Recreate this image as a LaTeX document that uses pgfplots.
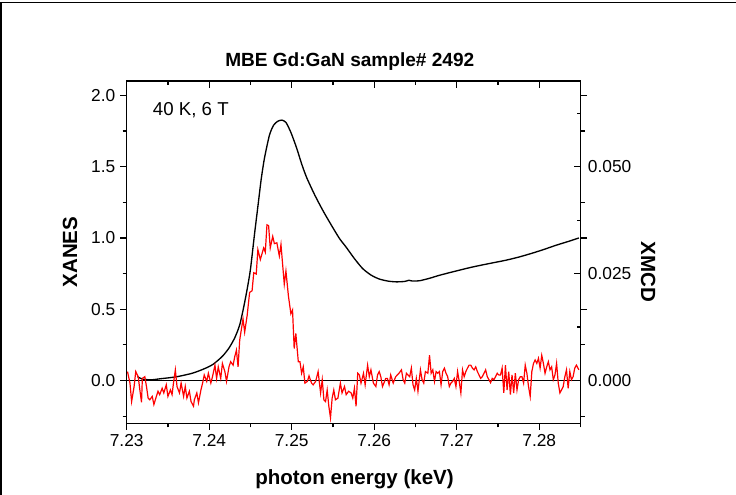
\documentclass[border=0pt]{standalone}
\usepackage{pgfplots}
\pgfplotsset{compat=1.18}
\usepackage{fontspec}
\setmainfont{Liberation Sans}
\pgfplotsset{
  base/.style={
    at={(95pt,53.75pt)}, anchor=south west,
    width=340.4pt, height=256.7pt, scale only axis,
    xmin=7.23, xmax=7.285,
    scaled x ticks=false, scaled y ticks=false,
    /pgf/number format/assume math mode=true,
    axis line style={draw=none},
    tick style={black, line width=0.9pt},
    major tick length=5pt, minor tick length=3pt,
    ticklabel style={font=\fontsize{13}{15}\selectfont},
    clip=true,
  },
}
\begin{document}
\begin{tikzpicture}
\path[use as bounding box] (0,0) rectangle (552pt,371.25pt);
\draw[line width=1.1pt] (0.7pt,0) -- (0.7pt,369.2pt) -- (552pt,369.2pt);

% left axis (XANES), ticks outward on bottom and left
\begin{axis}[base,
  ymin=-0.3, ymax=2.1,
  xtick pos=left, ytick pos=left, tick align=outside,
  xtick={7.23,7.24,7.25,7.26,7.27,7.28},
  minor xtick={7.235,7.245,7.255,7.265,7.275,7.285},
  ytick={0,0.5,1,1.5,2},
  minor ytick={-0.25,0.25,0.75,1.25,1.75},
  xticklabel style={/pgf/number format/.cd, fixed, fixed zerofill, precision=2},
  yticklabel style={/pgf/number format/.cd, fixed, fixed zerofill, precision=1},
]
\addplot[black, line width=1pt, smooth, tension=0.4] coordinates {
(7.2313,0.028) (7.2319,0.010) (7.2330,0.005) (7.2340,0.012) (7.2360,0.026)
(7.2380,0.052) (7.2395,0.085) (7.2405,0.115) (7.2416,0.170) (7.2424,0.228)
(7.2431,0.300) (7.2437,0.390) (7.2442,0.520) (7.2446,0.640) (7.2450,0.780)
(7.2455,1.030) (7.2459,1.220) (7.2463,1.410) (7.2467,1.560) (7.2473,1.720)
(7.2478,1.790) (7.2483,1.818) (7.2488,1.826) (7.2493,1.810) (7.2499,1.740)
(7.2506,1.630) (7.2512,1.520) (7.2518,1.425) (7.2528,1.300) (7.2538,1.190)
(7.2548,1.090) (7.2558,0.995) (7.2566,0.935) (7.2576,0.855) (7.2586,0.785)
(7.2596,0.740) (7.2606,0.712) (7.2617,0.697) (7.2627,0.692) (7.2637,0.695)
(7.2642,0.703) (7.2646,0.698) (7.2655,0.700) (7.2667,0.717) (7.2679,0.738)
(7.2699,0.768) (7.2719,0.796) (7.2739,0.820) (7.2759,0.843) (7.2776,0.867)
(7.2792,0.894) (7.2806,0.920) (7.2820,0.948) (7.2835,0.975) (7.2848,1.000)
};
\end{axis}

% mirrored left-scale ticks on right side (outward), skipping those at the XMCD labels
\begin{axis}[base,
  ymin=-0.3, ymax=2.1,
  ytick pos=right, tick align=outside,
  ytick={0.5,1,2}, minor ytick={-0.25,0.25,1.25,1.75},
  yticklabels={}, xtick=\empty,
]
\addplot[draw=none] coordinates {(7.23,0) (7.285,0)};
\end{axis}

% top ticks (inward)
\begin{axis}[base,
  ymin=-0.3, ymax=2.1,
  xtick pos=right, tick align=inside,
  xtick={7.23,7.24,7.25,7.26,7.27,7.28},
  minor xtick={7.235,7.245,7.255,7.265,7.275,7.285},
  xticklabels={}, ytick=\empty,
]
\addplot[draw=none] coordinates {(7.23,0) (7.285,0)};
\end{axis}

% right axis (XMCD), ticks inward
\begin{axis}[base,
  ymin=-0.01, ymax=0.07,
  ytick pos=right, yticklabel pos=right, tick align=inside,
  ytick={0,0.025,0.05}, minor ytick={0.0125,0.0375,0.0625},
  xtick=\empty,
  yticklabel style={xshift=2pt, /pgf/number format/.cd, fixed, fixed zerofill, precision=3},
]
\addplot[black, line width=1.4pt] coordinates {(7.23,0) (7.285,0)};
\addplot[red, line width=0.9pt] coordinates {
(7.2301,0.0021) (7.2304,-0.0006) (7.2306,-0.0049) (7.2309,-0.0014) (7.2311,0.0021)
(7.2314,0.0009) (7.2316,-0.0022) (7.2318,-0.0051) (7.2319,0.0005) (7.2322,0.0009)
(7.2324,-0.0014) (7.2326,-0.0041) (7.2328,-0.0045) (7.2331,-0.0037) (7.2333,-0.0056)
(7.2336,-0.0037) (7.2338,-0.0025) (7.2340,-0.0033) (7.2343,-0.0018) (7.2345,-0.0029)
(7.2348,-0.0010) (7.2350,-0.0037) (7.2353,-0.0022) (7.2355,-0.0033) (7.2357,-0.0002)
(7.2359,0.0025) (7.2361,-0.0014) (7.2364,-0.0029) (7.2366,-0.0006) (7.2369,-0.0037)
(7.2371,-0.0014) (7.2373,-0.0041) (7.2376,-0.0025) (7.2378,-0.0049) (7.2381,-0.0060)
(7.2382,-0.0045) (7.2385,-0.0029) (7.2387,-0.0052) (7.2390,-0.0022) (7.2392,-0.0006)
(7.2394,0.0013) (7.2397,-0.0002) (7.2399,0.0017) (7.2402,-0.0006) (7.2404,0.0009)
(7.2407,0.0036) (7.2409,0.0005) (7.2411,0.0032) (7.2414,0.0005) (7.2416,0.0040)
(7.2419,0.0021) (7.2421,-0.0002) (7.2424,0.0032) (7.2426,0.0044) (7.2429,0.0036)
(7.2431,0.0056) (7.2433,0.0071) (7.2435,0.0032) (7.2437,0.0095) (7.2441,0.0144)
(7.2443,0.0113) (7.2446,0.0152) (7.2449,0.0206) (7.2452,0.0210) (7.2454,0.0252)
(7.2457,0.0249) (7.2459,0.0306) (7.2462,0.0283) (7.2466,0.0310) (7.2468,0.0300)
(7.2470,0.0364) (7.2472,0.0362) (7.2474,0.0310) (7.2477,0.0337) (7.2479,0.0320)
(7.2482,0.0322) (7.2485,0.0291) (7.2487,0.0318) (7.2491,0.0225) (7.2493,0.0256)
(7.2496,0.0198) (7.2499,0.0156) (7.2501,0.0165) (7.2503,0.0075) (7.2505,0.0110)
(7.2508,0.0044) (7.2510,0.0044) (7.2512,0.0017) (7.2514,0.0032) (7.2516,-0.0006)
(7.2519,-0.0002) (7.2521,0.0011) (7.2524,-0.0006) (7.2526,-0.0010) (7.2529,-0.0002)
(7.2532,0.0021) (7.2535,-0.0029) (7.2537,0.0002) (7.2539,-0.0045) (7.2541,-0.0049)
(7.2543,-0.0022) (7.2545,-0.0060) (7.2547,-0.0087) (7.2549,-0.0041) (7.2551,-0.0022)
(7.2553,-0.0045) (7.2556,-0.0041) (7.2559,-0.0006) (7.2561,-0.0029) (7.2564,-0.0014)
(7.2566,-0.0033) (7.2569,-0.0025) (7.2572,-0.0029) (7.2574,-0.0041) (7.2576,-0.0018)
(7.2578,-0.0060) (7.2580,0.0017) (7.2582,0.0013) (7.2584,-0.0006) (7.2587,0.0017)
(7.2589,-0.0010) (7.2592,0.0036) (7.2594,0.0009) (7.2596,0.0025) (7.2599,-0.0006)
(7.2602,-0.0014) (7.2604,0.0013) (7.2606,0.0021) (7.2608,0.0009) (7.2610,-0.0014)
(7.2614,0.0005) (7.2616,0.0005) (7.2618,-0.0010) (7.2620,0.0013) (7.2623,-0.0006)
(7.2626,0.0009) (7.2630,0.0017) (7.2633,0.0025) (7.2635,0.0002) (7.2637,-0.0006)
(7.2639,0.0017) (7.2643,0.0009) (7.2645,0.0029) (7.2647,-0.0010) (7.2649,-0.0022)
(7.2651,0.0005) (7.2653,-0.0025) (7.2656,0.0025) (7.2658,0.0002) (7.2660,-0.0006)
(7.2662,0.0021) (7.2665,0.0017) (7.2667,0.0059) (7.2669,0.0017) (7.2671,0.0025)
(7.2673,-0.0002) (7.2675,0.0021) (7.2677,0.0017) (7.2679,0.0021) (7.2681,-0.0010)
(7.2683,0.0021) (7.2685,0.0029) (7.2687,0.0017) (7.2689,0.0009) (7.2691,-0.0014)
(7.2693,-0.0006) (7.2695,-0.0002) (7.2697,0.0005) (7.2699,-0.0014) (7.2701,0.0021)
(7.2703,-0.0002) (7.2705,-0.0029) (7.2707,0.0025) (7.2709,0.0009) (7.2711,0.0021)
(7.2713,0.0029) (7.2715,0.0036) (7.2717,0.0036) (7.2719,0.0029) (7.2721,0.0025)
(7.2723,0.0032) (7.2725,0.0021) (7.2727,0.0013) (7.2729,0.0005) (7.2731,0.0009)
(7.2733,0.0017) (7.2735,0.0025) (7.2737,0.0009) (7.2739,0.0002) (7.2741,-0.0005)
(7.2743,0.0005) (7.2745,0.0002) (7.2747,0.0009) (7.2749,0.0017) (7.2751,0.0013)
(7.2753,0.0013) (7.2755,0.0029) (7.2757,-0.0029) (7.2759,0.0036) (7.2761,-0.0022)
(7.2763,0.0021) (7.2765,-0.0033) (7.2767,0.0013) (7.2769,-0.0029) (7.2771,0.0017)
(7.2773,-0.0022) (7.2775,0.0002) (7.2777,0.0009) (7.2779,0.0009) (7.2781,-0.0006)
(7.2783,0.0036) (7.2785,0.0017) (7.2787,-0.0014) (7.2789,-0.0037) (7.2791,0.0021)
(7.2793,0.0040) (7.2795,0.0048) (7.2797,0.0040) (7.2799,0.0052) (7.2801,0.0029)
(7.2803,0.0059) (7.2805,0.0040) (7.2807,0.0017) (7.2809,0.0032) (7.2811,0.0044)
(7.2813,0.0025) (7.2815,0.0032) (7.2817,0.0002) (7.2819,0.0013) (7.2821,0.0040)
(7.2823,-0.0006) (7.2825,-0.0029) (7.2827,-0.0022) (7.2829,-0.0014) (7.2831,0.0009)
(7.2833,0.0025) (7.2835,-0.0018) (7.2837,0.0021) (7.2839,0.0002) (7.2841,0.0009)
(7.2843,0.0029) (7.2845,0.0036) (7.2848,0.0025)
};
\end{axis}

% full frame of the plot area
\draw[line width=1pt] (95pt,53.75pt) rectangle (435.4pt,310.45pt);

% texts
\node[anchor=base west, inner sep=0, font=\fontsize{14.3}{16}\selectfont\bfseries]
  at (168.75pt,321pt) {MBE Gd:GaN sample\# 2492};
\node[anchor=base west, inner sep=0, font=\fontsize{15.4}{18}\selectfont\bfseries]
  at (191.25pt,7.5pt) {photon energy (keV)};
\node[anchor=base, inner sep=0, rotate=90, font=\fontsize{15.4}{18}\selectfont\bfseries]
  at (57.75pt,182.25pt) {XANES};
\node[anchor=base, inner sep=0, rotate=-90, font=\fontsize{15.4}{18}\selectfont\bfseries]
  at (480.75pt,167.25pt) {XMCD};
\node[anchor=base west, inner sep=0, font=\fontsize{14}{16}\selectfont]
  at (114.5pt,284.25pt) {40 K, 6 T};
\end{tikzpicture}
\end{document}
